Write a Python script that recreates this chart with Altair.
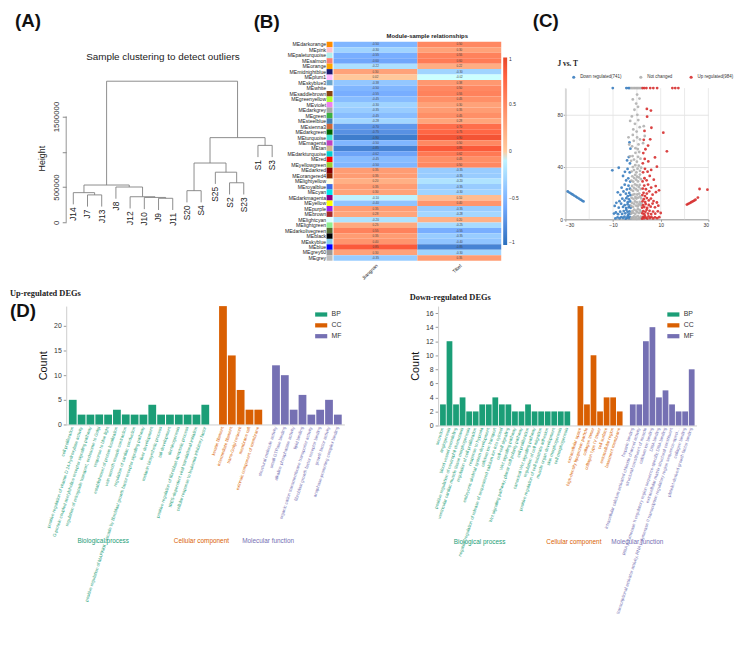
import json
import altair as alt
import pandas as pd

FONT = "Liberation Sans"
SERIF = "Liberation Serif"

# ---------------- (A) sample clustering dendrogram ----------------
leaf_order = ["J14", "J7", "J13", "J8", "J12", "J10", "J9", "J11",
              "S20", "S4", "S25", "S2", "S23", "S1", "S3"]
merge_left = ["J9", "J10", "J12", "J7", "J14", "S20", "J8", "c4", "S2", "S25", "c5", "S1", "c10", "c7"]
merge_right = ["J11", "c0", "c1", "J13", "c3", "S4", "c2", "c6", "S23", "c8", "c9", "S3", "c11", "c12"]
merge_height = [340000, 352000, 362000, 388000, 420000, 448000, 500000, 528000,
                560000, 710000, 840000, 1090000, 1200000, 2000000]
hang = 166000
height_ticks = [0, 500000, 1000000, 1500000]

# ---------------- (B) module-trait heatmap ----------------
modules = ["MEdarkorange", "MEpink", "MEpaleturquoise", "MEsalmon", "MEorange", "MEmidnightblue",
           "MEplum1", "MEskyblue3", "MEwhite", "MEsaddlebrown", "MEgreenyellow", "MEviolet",
           "MEdarkgrey", "MEgreen", "MEsteelblue", "MEsienna3", "MEdarkgreen", "MEturquoise",
           "MEmagenta", "MEtan", "MEdarkturquoise", "MEred", "MEyellowgreen", "MEdarkred",
           "MEorangered4", "MElightyellow", "MEroyalblue", "MEcyan", "MEdarkmagenta", "MEyellow",
           "MEpurple", "MEbrown", "MElightcyan", "MElightgreen", "MEdarkolivegreen", "MEblack",
           "MEskyblue", "MEblue", "MEgrey60", "MEgrey"]
module_colors = ["#ff8c00", "#ffc0cb", "#afeeee", "#fa8072", "#ffa500", "#191970",
                 "#ffbbff", "#6ca6cd", "#ffffff", "#8b4513", "#adff2f", "#ee82ee",
                 "#a9a9a9", "#3cb043", "#4682b4", "#cd6839", "#006400", "#40e0d0",
                 "#c040c0", "#d2b48c", "#00ced1", "#ff0000", "#9acd32", "#8b0000",
                 "#8b2500", "#ffffe0", "#4169e1", "#00e5ee", "#8b008b", "#ffff00",
                 "#a020f0", "#a52a2a", "#e0ffff", "#90ee90", "#556b2f", "#000000",
                 "#87ceeb", "#0000ff", "#999999", "#bebebe"]
traits = ["Jiangnan", "Tibet"]
corr_jiangnan = [-0.50, -0.30, -0.55, -0.60, -0.22, 0.30, 0.02, -0.38, -0.50, -0.55,
                 -0.45, -0.30, -0.35, -0.45, -0.28, -0.70, -0.75, -0.90, -0.50, -0.85,
                 -0.62, -0.45, -0.50, 0.35, 0.35, 0.20, 0.35, 0.30, -0.10, -0.40,
                 0.35, 0.28, -0.20, 0.25, 0.55, 0.35, 0.40, 0.85, 0.30, -0.35]
corr_tibet = [0.50, 0.30, 0.55, 0.60, 0.22, -0.30, -0.02, 0.38, 0.50, 0.55,
              0.45, 0.30, 0.35, 0.45, 0.28, 0.70, 0.75, 0.90, 0.50, 0.85,
              0.62, 0.45, 0.50, -0.35, -0.35, -0.20, -0.35, -0.30, 0.10, 0.40,
              -0.35, -0.28, 0.20, -0.25, -0.55, -0.35, -0.40, -0.85, -0.30, 0.35]
legend_ticks = [1, 0.5, 0, -0.5, -1]

# ---------------- (C) volcano plot ----------------
volcano_groups = ["Down regulated(741)", "Not changed", "Up regulated(984)"]
vol_xticks = [-30, -20, -10, 0, 10, 20, 30]
vol_yticks = [0, 20, 40, 60, 80, 100]
grey_pts = [(-2.4, 0.5), (-2.0, 1.5), (-1.6, 0.8), (-1.2, 2.2), (-0.8, 0.6), (-0.4, 1.8), (0.0, 0.4),
            (0.4, 2.5), (0.8, 1.2), (1.2, 0.7), (1.6, 2.0), (1.9, 1.0),
            (-2.3, 4.5), (-1.9, 6.2), (-1.5, 5.0), (-1.1, 7.3), (-0.7, 4.2), (-0.3, 6.6), (0.1, 5.4),
            (0.5, 7.8), (0.9, 4.8), (1.3, 6.9), (1.7, 5.6),
            (-2.4, 10.2), (-2.0, 12.5), (-1.6, 9.4), (-1.2, 11.8), (-0.8, 13.6), (-0.4, 10.5), (0.0, 12.9),
            (0.4, 9.8), (0.8, 11.4), (1.2, 13.2), (1.6, 10.7), (1.9, 12.2),
            (-2.2, 16.4), (-1.8, 18.6), (-1.4, 15.5), (-1.0, 19.2), (-0.6, 17.0), (-0.2, 15.8), (0.2, 18.9),
            (0.6, 16.6), (1.0, 19.6), (1.4, 17.4), (1.8, 15.9),
            (-2.4, 22.5), (-2.0, 25.4), (-1.6, 21.6), (-1.2, 24.0), (-0.8, 26.7), (-0.4, 22.9), (0.0, 25.9),
            (0.4, 21.8), (0.8, 24.6), (1.2, 26.2), (1.6, 23.1),
            (-2.3, 29.5), (-1.9, 32.8), (-1.5, 28.7), (-1.1, 31.4), (-0.7, 33.9), (-0.3, 30.2), (0.1, 32.5),
            (0.5, 28.9), (0.9, 31.9), (1.3, 34.1), (1.7, 30.6),
            (-2.2, 36.4), (-1.7, 39.8), (-1.2, 37.5), (-0.7, 41.2), (-0.2, 35.8), (0.3, 38.6), (0.8, 40.9),
            (1.3, 36.9), (1.8, 39.3),
            (-2.4, 44.6), (-1.8, 48.2), (-1.2, 45.5), (-0.6, 50.7), (0.0, 43.9), (0.5, 47.6), (1.0, 51.3),
            (1.5, 46.2),
            (-2.0, 55.6), (-1.3, 59.8), (-0.6, 54.2), (0.1, 62.4), (0.7, 57.1), (1.3, 60.9), (-1.7, 64.3),
            (0.4, 53.5),
            (-1.5, 68.5), (-0.8, 72.8), (-0.1, 66.9), (0.6, 75.6), (1.2, 70.2), (-2.1, 78.4), (0.2, 79.6),
            (-1.0, 83.5), (-0.3, 88.2), (0.5, 85.7), (-1.7, 91.4), (0.1, 95.1), (1.1, 92.0),
            (-2.4, 100), (-1.9, 100), (-1.3, 100), (-0.8, 100), (-0.3, 100), (0.2, 100), (0.7, 100),
            (1.3, 100), (1.8, 100),
            (-3.2, 57.0), (-2.9, 48.0), (-3.5, 62.5), (3.3, 63.5), (2.6, 58.0), (2.9, 71.0), (-2.8, 75.0)]
down_pts = [(-2.6, 0.6), (-3.0, 1.8), (-3.4, 0.9), (-3.8, 2.6), (-4.2, 1.2), (-4.7, 0.5), (-5.2, 2.1),
            (-5.8, 1.0), (-6.5, 1.7), (-7.2, 0.8), (-8.1, 1.4), (-9.0, 0.7),
            (-2.7, 4.4), (-3.1, 6.0), (-3.5, 3.8), (-3.9, 5.6), (-4.4, 7.1), (-4.9, 4.6), (-5.5, 6.3),
            (-6.2, 4.1), (-7.0, 5.8), (-7.9, 3.9), (-8.8, 5.2), (-9.6, 4.4),
            (-2.6, 8.8), (-3.0, 10.5), (-3.4, 9.2), (-3.9, 11.4), (-4.5, 8.6), (-5.1, 10.8), (-5.8, 9.4),
            (-6.6, 11.9), (-7.6, 8.9), (-9.3, 10.2),
            (-2.8, 13.6), (-3.3, 15.2), (-3.8, 13.0), (-4.4, 16.1), (-5.2, 14.3), (-6.1, 15.7), (-7.3, 13.8),
            (-8.6, 12.6),
            (-2.7, 18.4), (-3.2, 20.1), (-3.8, 17.6), (-4.6, 19.5), (-5.6, 21.2), (-6.9, 18.7), (-8.0, 20.6),
            (-2.9, 23.3), (-3.5, 25.6), (-4.2, 22.8), (-5.1, 26.4), (-6.4, 24.1),
            (-2.8, 28.8), (-3.6, 31.2), (-4.5, 29.6), (-5.8, 33.0),
            (-3.0, 35.7), (-3.9, 38.4), (-5.0, 36.2), (-7.6, 39.3), (-10.3, 37.3),
            (-2.9, 42.6), (-3.4, 47.4), (-2.7, 53.8), (-4.1, 44.9), (-3.1, 58.6),
            (-3.0, 100), (-3.6, 100), (-4.4, 100), (-10.1, 100),
            (-29.0, 21.2), (-28.3, 20.4), (-27.6, 19.6), (-27.0, 18.9), (-26.3, 18.1), (-25.6, 17.3),
            (-25.0, 16.6), (-24.3, 15.8), (-23.6, 15.0), (-23.0, 14.3), (-22.4, 13.6)]
up_pts = [(2.2, 0.5), (2.6, 1.9), (3.0, 0.8), (3.4, 2.4), (3.9, 1.1), (4.4, 0.6), (4.9, 2.2), (5.5, 1.0),
          (6.1, 1.8), (6.8, 0.7), (7.6, 1.5), (8.5, 0.9), (9.4, 1.6),
          (2.3, 4.6), (2.7, 6.2), (3.1, 3.9), (3.6, 5.7), (4.1, 7.2), (4.7, 4.4), (5.3, 6.5), (6.0, 4.0),
          (6.8, 5.9), (7.7, 4.3), (8.8, 6.1), (10.0, 4.8),
          (2.2, 8.9), (2.6, 10.7), (3.1, 9.3), (3.7, 11.6), (4.3, 8.7), (5.0, 10.9), (5.8, 9.6), (6.6, 12.0),
          (7.6, 9.1), (9.0, 10.4),
          (2.4, 13.7), (2.9, 15.3), (3.5, 13.1), (4.2, 16.2), (5.0, 14.4), (5.9, 15.8), (7.0, 13.9), (8.4, 12.8),
          (2.3, 18.5), (2.8, 20.2), (3.4, 17.7), (4.2, 19.6), (5.2, 21.3), (6.6, 18.8), (8.0, 20.7), (9.3, 22.1),
          (2.5, 23.4), (3.1, 25.7), (3.8, 22.9), (4.7, 26.5), (6.0, 24.2), (7.9, 25.3),
          (2.4, 28.9), (3.2, 31.3), (4.1, 29.7), (5.4, 33.1), (7.1, 30.2),
          (2.6, 35.8), (3.4, 38.5), (4.5, 36.3), (6.0, 37.6), (8.4, 40.1),
          (2.5, 42.7), (3.3, 46.0), (4.8, 44.1), (7.6, 47.2),
          (2.7, 50.5), (3.6, 53.4), (4.7, 56.2), (2.9, 60.6), (5.6, 61.0), (3.2, 67.4), (6.1, 69.8),
          (4.3, 78.2), (4.2, 84.1), (5.9, 82.9), (11.1, 66.0), (12.6, 51.8),
          (2.4, 100), (3.1, 100), (4.0, 100), (5.6, 100), (6.9, 100), (8.5, 100), (14.9, 100), (16.1, 100),
          (17.4, 100),
          (21.0, 11.2), (21.6, 11.8), (22.2, 12.4), (22.8, 13.0), (23.4, 13.6), (24.0, 14.2), (24.6, 14.9),
          (25.6, 16.6), (26.3, 23.1), (29.6, 22.6)]

# ---------------- (D) GO enrichment bars ----------------
up_bp_terms = ["cell proliferation",
               "positive regulation of vitamin D 24-hydroxylase activity",
               "G-protein coupled acetylcholine receptor signaling pathway",
               "regulation of retrograde transport, endosome to Golgi",
               "response to blue light",
               "establishment of protein localization",
               "vein smooth muscle contraction",
               "regulation of cardiac conduction",
               "positive regulation of MAPKKK cascade by fibroblast growth factor receptor signaling pathway",
               "liver development",
               "melanin biosynthetic process",
               "tail development",
               "dentinogenesis",
               "positive regulation of fibroblast apoptotic process",
               "IRES-dependent viral translational initiation",
               "cellular response to leukemia inhibitory factor"]
up_bp_counts = [5, 2, 2, 2, 2, 3, 2, 2, 2, 4, 2, 2, 2, 2, 2, 4]
up_cc_terms = ["keratin filament", "intermediate filament", "trans-Golgi network",
               "membrane raft", "extrinsic component of membrane"]
up_cc_counts = [24, 14, 7, 3, 3]
up_mf_terms = ["structural molecule activity", "small GTPase binding", "alkaline phosphatase activity",
               "lipid binding", "organic cation transmembrane transporter activity",
               "fibroblast growth factor receptor binding", "growth factor activity",
               "anaphase-promoting complex binding"]
up_mf_counts = [12, 10, 3, 6, 2, 3, 5, 2]

down_bp_terms = ["secretion", "angiogenesis", "blood vessel remodeling",
                 "positive regulation of neutrophil chemotaxis",
                 "ventricular cardiac muscle tissue morphogenesis",
                 "regulation of cell proliferation", "response to hypoxia",
                 "embryonic skeletal system development", "calcium ion transport",
                 "negative regulation of release of sequestered calcium ion into cytosol",
                 "cell-cell signaling", "Wnt signaling pathway",
                 "Wnt signaling pathway, planar cell polarity pathway", "cell proliferation",
                 "canonical Wnt signaling pathway", "regulation of cell migration",
                 "positive regulation of cell-substrate adhesion", "muscle organ development",
                 "skin morphogenesis", "cell morphogenesis"]
down_bp_counts = [3, 12, 3, 4, 2, 2, 3, 3, 4, 3, 3, 2, 2, 3, 2, 2, 2, 2, 2, 2]
down_cc_terms = ["extracellular space", "high-density lipoprotein particle", "collagen trimer",
                 "collagen type IV trimer", "cell surface", "extracellular region", "basement membrane"]
down_cc_counts = [17, 3, 10, 2, 4, 4, 2]
down_mf_terms = ["heparin binding",
                 "intracellular calcium activated chloride channel activity",
                 "structural constituent of muscle", "calcium ion binding", "DNA binding",
                 "RNA polymerase II regulatory region sequence-specific DNA binding",
                 "extracellular matrix structural constituent",
                 "transcriptional activator activity, RNA polymerase II transcription regulatory region sequence-specific binding",
                 "collagen binding", "platelet-derived growth factor binding"]
down_mf_counts = [3, 3, 12, 14, 4, 5, 3, 2, 2, 8]

GO_COLORS = {"BP": "#1b9e77", "CC": "#d95f02", "MF": "#7570b3"}
HEAT_BLUE, HEAT_RED = "#2a6fbd", "#e5462a"


def letter_title(txt, dx, offset=2):
    return alt.TitleParams(txt, anchor="start", frame="group", dx=dx, dy=-9, offset=offset, fontSize=19,
                           fontWeight="bold", font=FONT, color="#111")


def note(txt, x, y, size, font=FONT, weight="normal", align="center"):
    return alt.Chart(alt.Data(values=[{"t": txt}])).mark_text(
        align=align, baseline="middle", fontSize=size, fontWeight=weight, font=font, color="#222"
    ).encode(x=alt.value(x), y=alt.value(y), text="t:N")


# ---- build panel A ----
pos = {name: i + 1 for i, name in enumerate(leaf_order)}
node_top = {}
segs, leaf_rows = [], []
for k, (a, b, h) in enumerate(zip(merge_left, merge_right, merge_height)):
    for child in (a, b):
        if child in node_top:
            bottom = node_top[child]
        else:
            bottom = h - hang
            leaf_rows.append({"x": pos[child], "y": bottom, "label": child})
        segs.append({"x": pos[child], "x2": pos[child], "y": bottom, "y2": h})
    segs.append({"x": pos[a], "x2": pos[b], "y": h, "y2": h})
    pos[f"c{k}"] = (pos[a] + pos[b]) / 2
    node_top[f"c{k}"] = h

A_W, A_H = 216, 183
xs = alt.Scale(domain=[0.5, 15.5], nice=False, zero=False)
ys = alt.Scale(domain=[0, 2000000], range=[A_H, 40], nice=False)
dend = alt.Chart(pd.DataFrame(segs)).mark_rule(color="#808080", strokeWidth=0.9).encode(
    x=alt.X("x:Q", scale=xs, axis=None),
    x2="x2",
    y=alt.Y("y:Q", scale=ys, axis=alt.Axis(
        title="Height", values=height_ticks,
        labelExpr="datum.value == 1000000 ? '' : format(datum.value, 'd')",
        labelAngle=-90, grid=False, domain=False, labelFontSize=8, titleFontSize=9,
        titleFontWeight="normal", tickSize=4, tickColor="#888", labelColor="#333", titleColor="#222",
        titlePadding=6, titleY=118)),
    y2="y2",
)
axis_line = alt.Chart(alt.Data(values=[{"lo": min(height_ticks), "hi": max(height_ticks)}])).mark_rule(
    color="#888", strokeWidth=0.9).encode(x=alt.value(0), y=alt.Y("lo:Q", scale=ys), y2="hi:Q")
leaves = alt.Chart(pd.DataFrame(leaf_rows)).mark_text(
    angle=270, align="right", baseline="middle", dx=-3, fontSize=8.5, font=FONT, color="#222"
).encode(x=alt.X("x:Q", scale=xs), y=alt.Y("y:Q", scale=ys), text="label:N")
panel_a = alt.layer(dend, axis_line, leaves,
                    note("Sample clustering to detect outliers", 98, 15, 10)).properties(
    width=A_W, height=A_H, title=letter_title("(A)", -52))

# ---- build panel B ----
heat_rows = []
for m, c1, c2 in zip(modules, corr_jiangnan, corr_tibet):
    heat_rows.append({"module": m, "trait": traits[0], "corr": c1, "txt": f"{c1:.2f}"})
    heat_rows.append({"module": m, "trait": traits[1], "corr": c2, "txt": f"{c2:.2f}"})
heat_df = pd.DataFrame(heat_rows)
sw_df = pd.DataFrame({"module": modules, "mcolor": module_colors})

B_W, B_H = 170, 222
yb = alt.Y("module:N", sort=modules, axis=alt.Axis(title=None, ticks=False, domain=False,
                                                   labelFontSize=5.2, labelPadding=8, labelColor="#222"))
xb = alt.X("trait:N", sort=traits, axis=alt.Axis(title=None, labelAngle=-45, ticks=False, domain=False,
                                                 labelFontSize=5, labelPadding=2, labelColor="#222"))
heat = alt.Chart(heat_df).mark_rect().encode(
    x=xb, y=yb,
    color=alt.Color("corr:Q", scale=alt.Scale(domain=[-1, 0, 1], range=[HEAT_BLUE, "#ffffff", HEAT_RED]),
                    legend=alt.Legend(title=None, orient="none", legendX=B_W + 2, legendY=16,
                                      direction="vertical", gradientLength=190, format=".1~f",
                                      gradientThickness=4, labelFontSize=5, values=legend_ticks,
                                      gradientStrokeWidth=0, labelColor="#333")))
heat_txt = alt.Chart(heat_df).mark_text(fontSize=3, color="#444", font=FONT).encode(
    x=alt.X("trait:N", sort=traits), y=alt.Y("module:N", sort=modules), text="txt:N")
swatch = alt.Chart(sw_df).mark_rect().encode(
    y=alt.Y("module:N", sort=modules), x=alt.value(-7), x2=alt.value(-1),
    color=alt.Color("mcolor:N", scale=None))
panel_b = alt.layer(heat, heat_txt, swatch,
                    note("Module-sample relationships", B_W / 2 + 10, -6, 6, weight="bold")).resolve_scale(
    color="independent").properties(width=B_W, height=B_H, title=letter_title("(B)", -81, offset=-8))

# ---- build panel C ----
C_W, C_H = 145, 180
volc_rows = []
for g, pts in zip(volcano_groups, [down_pts, grey_pts, up_pts]):
    for x, y in pts:
        volc_rows.append({"lfc": x, "nlp": y, "grp": g})
volc_df = pd.DataFrame(volc_rows)
vx = alt.Scale(domain=[-30, 30], nice=False)
vy = alt.Scale(domain=[0, 100], range=[C_H, 47], nice=False)
vgrid = alt.Chart(pd.DataFrame({"gx": vol_xticks, "lo": 0, "hi": 100})).mark_rule(
    color="#e4e4e4", strokeWidth=0.8).encode(x=alt.X("gx:Q", scale=vx), y=alt.Y("lo:Q", scale=vy), y2="hi")
volc = alt.Chart(volc_df).mark_circle(size=8, opacity=0.9).encode(
    x=alt.X("lfc:Q", scale=vx,
            axis=alt.Axis(title=None, values=vol_xticks, labelFontSize=5, tickSize=2, grid=False,
                          labelOverlap=False, domainColor="#999", tickColor="#999", labelColor="#333",
                          labelPadding=1)),
    y=alt.Y("nlp:Q", scale=vy,
            axis=alt.Axis(title=None, values=vol_yticks, labelFontSize=5, tickSize=2, labelOverlap=False,
                          grid=True, gridColor="#e4e4e4", domainColor="#999", tickColor="#999",
                          labelColor="#333", labelPadding=1)),
    color=alt.Color("grp:N", scale=alt.Scale(domain=volcano_groups,
                                             range=["#3a7dbf", "#b0b0b0", "#d62f2f"]),
                    legend=alt.Legend(orient="none", legendX=6, legendY=33, direction="horizontal",
                                      title=None, labelFontSize=4.5, symbolSize=10, columnPadding=16,
                                      symbolType="circle", labelColor="#333")),
)
panel_c = alt.layer(vgrid, volc, note("J vs. T", -8, 23, 7.5, font=SERIF, weight="bold", align="left")).properties(
    width=C_W, height=C_H, title=letter_title("(C)", -33))

# ---- build panel D ----
RECT_PATH = "M-1,-0.35L1,-0.35L1,0.35L-1,0.35Z"


def go_panel(bp_t, bp_c, cc_t, cc_c, mf_t, mf_c, title, ymax, yvals, width, height, glabels, extra=None):
    rows = ([{"term": t, "count": c, "cat": "BP"} for t, c in zip(bp_t, bp_c)] +
            [{"term": t, "count": c, "cat": "CC"} for t, c in zip(cc_t, cc_c)] +
            [{"term": t, "count": c, "cat": "MF"} for t, c in zip(mf_t, mf_c)])
    domain = bp_t + [" "] + cc_t + ["  "] + mf_t
    xscale = alt.Scale(domain=domain, paddingInner=0.12, paddingOuter=0.3)
    label_color = {"condition": [
        {"test": f"indexof({json.dumps(bp_t)}, datum.value) >= 0", "value": GO_COLORS["BP"]},
        {"test": f"indexof({json.dumps(cc_t)}, datum.value) >= 0", "value": GO_COLORS["CC"]}],
        "value": GO_COLORS["MF"]}
    bars = alt.Chart(pd.DataFrame(rows)).mark_bar().encode(
        x=alt.X("term:N", scale=xscale, sort=domain,
                axis=alt.Axis(title=None, labelAngle=-72, labelFontSize=4.5, labelLimit=200, ticks=False,
                              domainColor="#cccccc", labelPadding=2, labelColor=label_color)),
        y=alt.Y("count:Q", scale=alt.Scale(domain=[0, ymax], nice=False),
                axis=alt.Axis(title="Count", titleFontSize=11, titleFontWeight="normal", labelFontSize=7,
                              values=yvals, grid=False, tickSize=3, domainColor="#cccccc",
                              tickColor="#999", labelColor="#333", titleColor="#111", titlePadding=5)),
        color=alt.Color("cat:N", scale=alt.Scale(domain=["BP", "CC", "MF"],
                                                 range=[GO_COLORS["BP"], GO_COLORS["CC"], GO_COLORS["MF"]]),
                        legend=alt.Legend(orient="top-right", title=None, labelFontSize=7, symbolType=RECT_PATH,
                                          symbolSize=150, symbolStrokeWidth=0, rowPadding=1, offset=2,
                                          labelColor="#333")),
    )
    layers = [bars]
    for term, text, cat, dx in glabels:
        layers.append(alt.Chart(alt.Data(values=[{"term": term, "t": text}])).mark_text(
            dx=dx, color=GO_COLORS[cat], fontSize=6.5, font=FONT, baseline="middle"
        ).encode(x=alt.X("term:N", scale=xscale, sort=domain), y=alt.value(height + 118), text="t:N"))
    if extra is not None:
        layers.append(extra)
    return alt.layer(*layers).properties(
        width=width, height=height,
        title=alt.TitleParams(title, font=SERIF, fontSize=8.5, fontWeight="bold", anchor="start",
                              offset=5, color="#222"))


up_chart = go_panel(up_bp_terms, up_bp_counts, up_cc_terms, up_cc_counts, up_mf_terms, up_mf_counts,
                    "Up-regulated DEGs", 24, [0, 5, 10, 15, 20], 282, 120,
                    [(up_bp_terms[3], "Biological process", "BP", 4),
                     (up_bp_terms[14], "Cellular component", "CC", 5),
                     ("  ", "Molecular function", "MF", 1)],
                    extra=alt.Chart(alt.Data(values=[{"t": "(D)"}])).mark_text(
                        align="left", baseline="top", fontSize=19, fontWeight="bold", font=FONT, color="#111"
                    ).encode(x=alt.value(-57), y=alt.value(-4), text="t:N"))
down_chart = go_panel(down_bp_terms, down_bp_counts, down_cc_terms, down_cc_counts, down_mf_terms,
                      down_mf_counts, "Down-regulated DEGs", 17, list(range(0, 17, 2)), 262, 121,
                      [(down_bp_terms[5], "Biological process", "BP", 4),
                       (" ", "Cellular component", "CC", 0),
                       (down_mf_terms[1], "Molecular function", "MF", -2)])

ab = alt.hconcat(panel_a, panel_b, spacing=-26).resolve_scale(color="independent")
top = alt.hconcat(ab, panel_c, spacing=14).resolve_scale(color="independent")
bottom = alt.hconcat(up_chart, down_chart, spacing=66).resolve_scale(color="independent")
chart = alt.concat(top, bottom, columns=1, spacing=8, align="none").resolve_scale(
    color="independent").properties(
    padding={"top": 0, "left": 2, "right": 2, "bottom": 2}).configure_view(stroke=None).configure_axis(
    labelFont=FONT, titleFont=FONT).configure_legend(labelFont=FONT).configure_title(font=FONT)

chart.save("out.html", embed_options={"renderer": "svg", "actions": False})
